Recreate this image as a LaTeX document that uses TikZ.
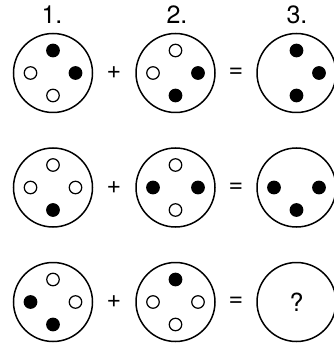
\documentclass[tikz,border=0pt]{standalone}
\usepackage{fontspec}
\setmainfont{TeX Gyre Heros}
\tikzset{
  disc/.style={circle,draw,line width=1.5pt,minimum size=79pt,inner sep=0pt,
    font=\fontsize{25pt}{25pt}\selectfont},
  hole/.style={circle,draw,line width=1.2pt,minimum size=12.5pt,inner sep=0pt},
  pin/.style={hole,fill=black},
  sign/.style={inner sep=0pt,font=\fontsize{25pt}{25pt}\selectfont}
}
\begin{document}
\begin{tikzpicture}[x=1pt,y=-1pt]
\useasboundingbox (0,0) rectangle (333,344);
% column numbers
\node[sign] (n1) at (52,15) {1.};
\node[sign] (n2) at (177,15) {2.};
\node[sign] (n3) at (297,15) {3.};
% row 1
\node[disc] (a1) at (53,73) {};
\node[disc] (a2) at (175.5,73) {};
\node[disc] (a3) at (296.5,73) {};
\foreach \p/\dx/\dy/\s in {t/0/-22.5/pin, l/-22.5/0/hole, r/22.5/0/pin, b/0/22.5/hole}
  \node[\s] (a1\p) at ([shift={(\dx,\dy)}]a1) {};
\foreach \p/\dx/\dy/\s in {t/0/-22.5/hole, l/-22.5/0/hole, r/22.5/0/pin, b/0/22.5/pin}
  \node[\s] (a2\p) at ([shift={(\dx,\dy)}]a2) {};
\foreach \p/\dx/\dy/\s in {t/0/-22.5/pin, r/22.5/0/pin, b/0/22.5/pin}
  \node[\s] (a3\p) at ([shift={(\dx,\dy)}]a3) {};
\node[sign] (pa) at (114,73) {+};
\node[sign] (ea) at (236,73) {=};
% row 2
\node[disc] (b1) at (53,187.5) {};
\node[disc] (b2) at (175.5,187.5) {};
\node[disc] (b3) at (296.5,187.5) {};
\foreach \p/\dx/\dy/\s in {t/0/-22.5/hole, l/-22.5/0/hole, r/22.5/0/hole, b/0/22.5/pin}
  \node[\s] (b1\p) at ([shift={(\dx,\dy)}]b1) {};
\foreach \p/\dx/\dy/\s in {t/0/-22.5/hole, l/-22.5/0/pin, r/22.5/0/pin, b/0/22.5/hole}
  \node[\s] (b2\p) at ([shift={(\dx,\dy)}]b2) {};
\foreach \p/\dx/\dy/\s in {l/-22.5/0/pin, r/22.5/0/pin, b/0/22.5/pin}
  \node[\s] (b3\p) at ([shift={(\dx,\dy)}]b3) {};
\node[sign] (pb) at (114,187.5) {+};
\node[sign] (eb) at (236,187.5) {=};
% row 3
\node[disc] (c1) at (53,302) {};
\node[disc] (c2) at (175.5,302) {};
\node[disc] (c3) at (296.5,302) {?};
\foreach \p/\dx/\dy/\s in {t/0/-22.5/hole, l/-22.5/0/pin, r/22.5/0/hole, b/0/22.5/pin}
  \node[\s] (c1\p) at ([shift={(\dx,\dy)}]c1) {};
\foreach \p/\dx/\dy/\s in {t/0/-22.5/pin, l/-22.5/0/hole, r/22.5/0/hole, b/0/22.5/hole}
  \node[\s] (c2\p) at ([shift={(\dx,\dy)}]c2) {};
\node[sign] (pc) at (114,302) {+};
\node[sign] (ec) at (236,302) {=};
\end{tikzpicture}
\end{document}
